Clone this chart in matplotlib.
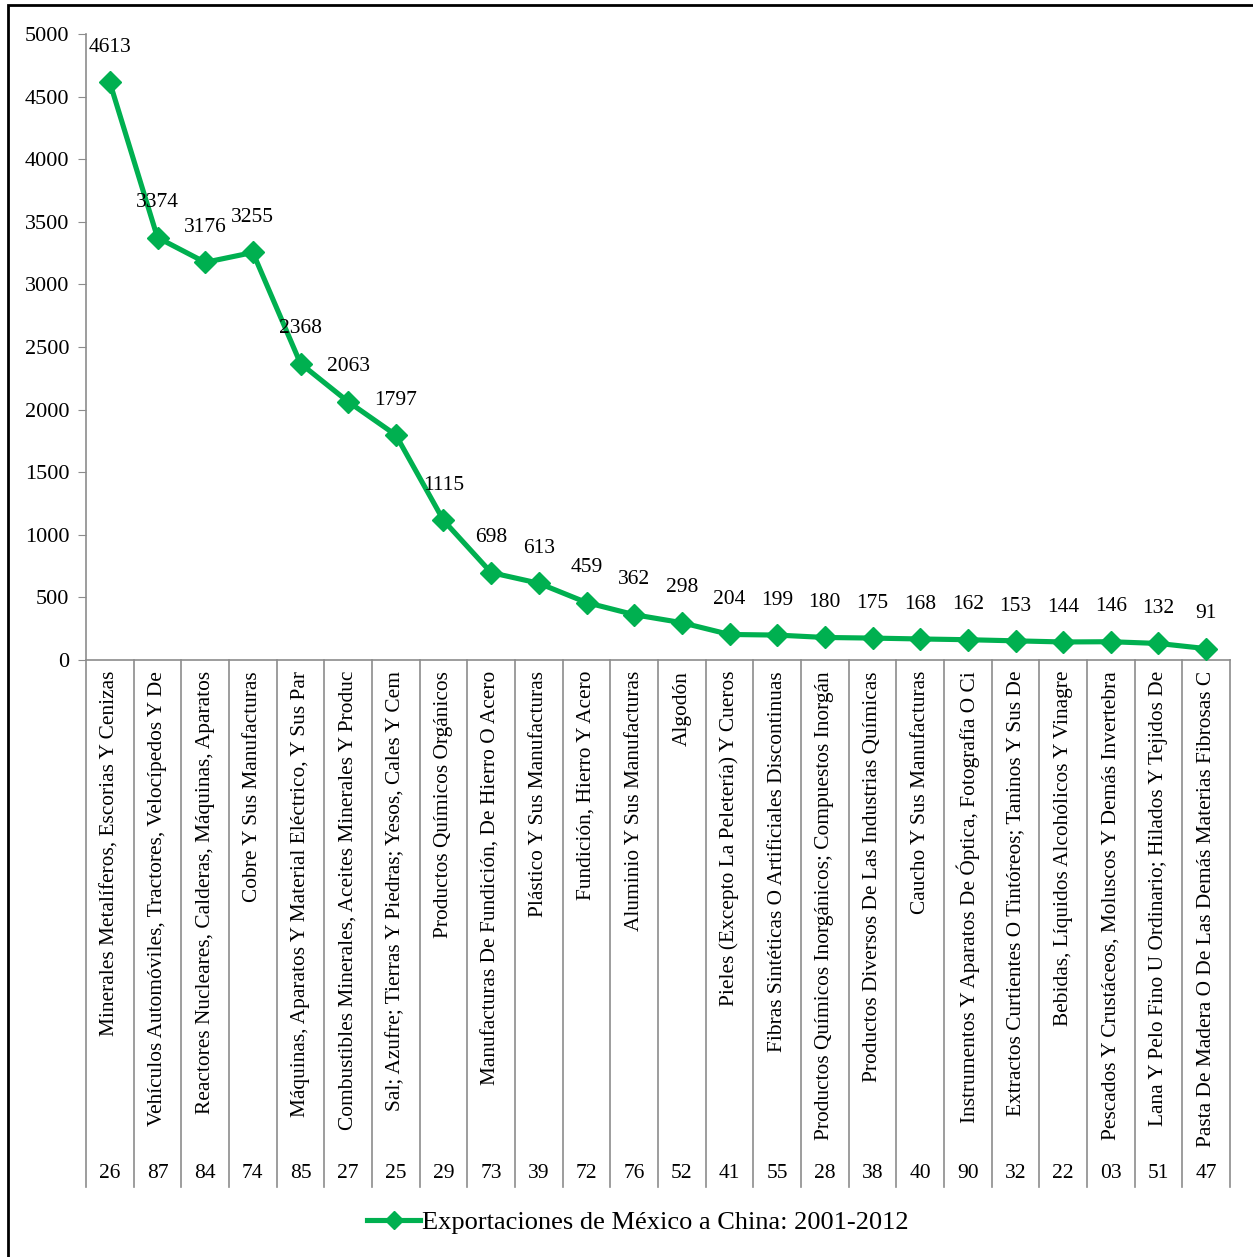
import matplotlib
matplotlib.use('Agg')
from matplotlib import pyplot as plt
from matplotlib.transforms import blended_transform_factory
from matplotlib.patches import Rectangle

codes = ['26', '87', '84', '74', '85', '27', '25', '29', '73', '39', '72', '76',
         '52', '41', '55', '28', '38', '40', '90', '32', '22', '03', '51', '47']
names = ['Minerales Metalíferos, Escorias Y Cenizas',
         'Vehículos Automóviles, Tractores, Velocípedos Y De',
         'Reactores Nucleares, Calderas, Máquinas, Aparatos',
         'Cobre Y Sus Manufacturas',
         'Máquinas, Aparatos Y Material Eléctrico, Y Sus Par',
         'Combustibles Minerales, Aceites Minerales Y Produc',
         'Sal; Azufre; Tierras Y Piedras; Yesos, Cales Y Cem',
         'Productos Químicos Orgánicos',
         'Manufacturas De Fundición, De Hierro O Acero',
         'Plástico Y Sus Manufacturas',
         'Fundición, Hierro Y Acero',
         'Aluminio Y Sus Manufacturas',
         'Algodón',
         'Pieles (Excepto La Peletería) Y Cueros',
         'Fibras Sintéticas O Artificiales Discontinuas',
         'Productos Químicos Inorgánicos; Compuestos Inorgán',
         'Productos Diversos De Las Industrias Químicas',
         'Caucho Y Sus Manufacturas',
         'Instrumentos Y Aparatos De Óptica, Fotografía O Ci',
         'Extractos Curtientes O Tintóreos; Taninos Y Sus De',
         'Bebidas, Líquidos Alcohólicos Y Vinagre',
         'Pescados Y Crustáceos, Moluscos Y Demás Invertebra',
         'Lana Y Pelo Fino U Ordinario; Hilados Y Tejidos De',
         'Pasta De Madera O De Las Demás Materias Fibrosas C']
values = [4613, 3374, 3176, 3255, 2368, 2063, 1797, 1115, 698, 613, 459, 362,
          298, 204, 199, 180, 175, 168, 162, 153, 144, 146, 132, 91]
series_name = 'Exportaciones de México a China: 2001-2012'

plt.rcParams['font.family'] = ['Liberation Serif', 'DejaVu Serif']
green = '#00B050'
gray = '#8c8c8c'

W, H = 1253, 1257
fig = plt.figure(figsize=(W / 100, H / 100), dpi=100)
ax = fig.add_axes([86 / W, 1 - 660 / H, (1230 - 86) / W, (660 - 34) / H])

x = list(range(len(values)))
ax.plot(x, values, color=green, lw=3.7, marker='D', markersize=11,
        markeredgecolor=green, label=series_name, clip_on=False, zorder=3)
for xi, v in zip(x, values):
    ax.annotate(str(v), (xi, v), xytext=(0, 25), textcoords='offset points',
                ha='center', va='center', fontsize=15.5)

ax.set_xlim(-0.5, len(values) - 0.5)
ax.set_ylim(0, 5000)
ax.set_yticks(range(0, 5001, 500))
ax.tick_params(axis='y', labelsize=16, length=6, color=gray, pad=6)
ax.set_xticks([])
for s in ['top', 'right']:
    ax.spines[s].set_visible(False)
for s in ['left', 'bottom']:
    ax.spines[s].set_color(gray)
    ax.spines[s].set_linewidth(1.2)

# multi-level category axis
tr = blended_transform_factory(ax.transData, fig.transFigure)
y_top = 1 - 660 / H
y_bot = 1 - 1187 / H
for i in range(len(values) + 1):
    ax.plot([i - 0.5, i - 0.5], [y_top, y_bot], transform=tr, color=gray,
            lw=1.2, clip_on=False)
for i, (name, code) in enumerate(zip(names, codes)):
    ax.text(i, 1 - 671 / H, name, transform=tr, rotation=90, ha='center',
            va='top', fontsize=15.4)
    ax.text(i, 1 - 1174 / H, code, transform=tr, ha='center', va='center',
            fontsize=15.5)

leg = fig.legend(loc='center', bbox_to_anchor=(0.509, 1 - 1222 / H), frameon=False,
                 fontsize=19, handlelength=2.0, handletextpad=0.05, markerscale=0.85)

fig.patches.append(Rectangle((8 / W, -0.01), 1.1, 1 - 5 / H + 0.01,
                             transform=fig.transFigure, fill=False,
                             edgecolor='black', lw=2, zorder=10))

fig.savefig('out.png', dpi=100)
